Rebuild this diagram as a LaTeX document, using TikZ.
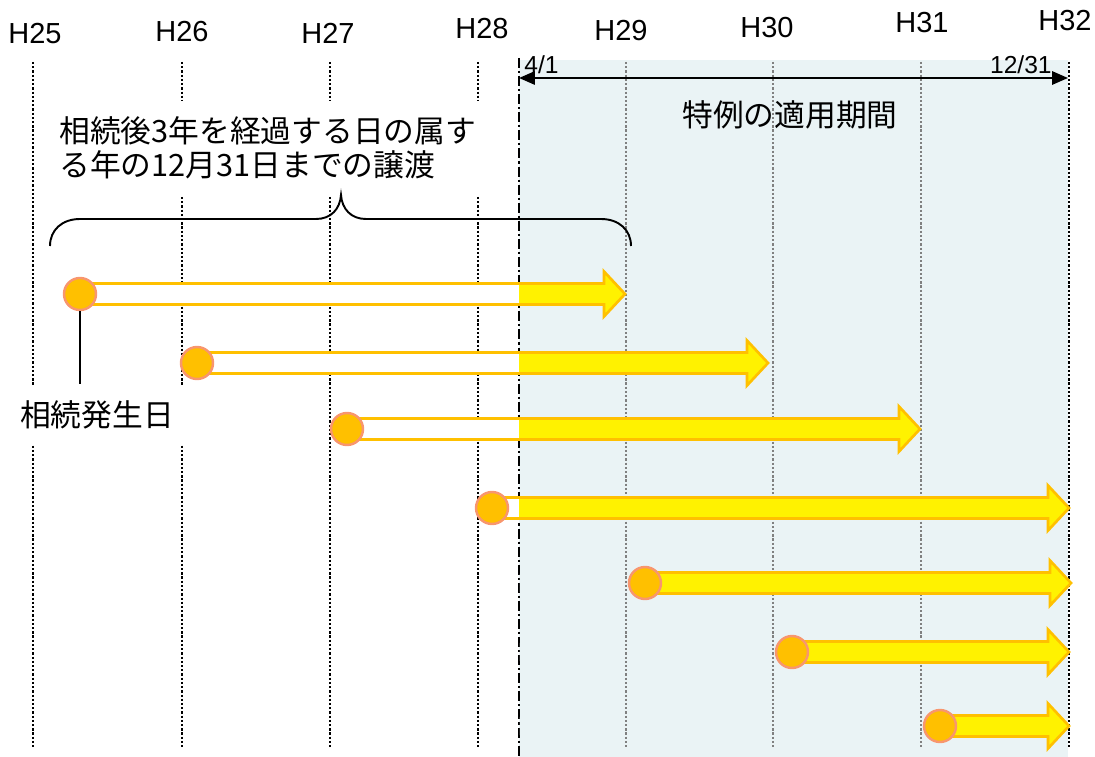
\documentclass[tikz,border=0pt]{standalone}
\usepackage{fontspec}
\setmainfont{Liberation Sans}
\newfontfamily\jp{Noto Sans CJK JP}
\usepackage{tikz}
\usetikzlibrary{arrows.meta, positioning}
\definecolor{gold}{RGB}{255,192,0}
\definecolor{peach}{RGB}{248,150,110}
\definecolor{paleblue}{RGB}{234,243,245}

\begin{document}
\begin{tikzpicture}[x=0.02cm, y=-0.02cm,
    yearlbl/.style={font=\fontsize{16.5pt}{19pt}\selectfont, inner sep=0pt},
    datelbl/.style={font=\fontsize{14pt}{16pt}\selectfont, inner sep=0pt},
    jtext/.style={font=\jp\fontsize{17.5pt}{19.5pt}\selectfont},
    yearline/.style={line width=1.4pt, dash pattern=on 1.3pt off 1.1pt},
    dot/.style={circle, draw=peach, fill=gold, line width=1.4pt, minimum size=0.64cm, inner sep=0pt},
    band/.style={draw=gold, fill=yellow, line width=1.5pt, line join=miter}]
    \useasboundingbox (0,0) rectangle (1095,757);
    % period of the special rule
    \fill[paleblue] (519,60) rectangle (1068,757);
    \foreach \n/\lx/\ly/\gx/\col in {25/35/34/33/black, 26/182/32/182/black, 27/328/33/330/black, 28/482/29/478/black,
        29/621/31/626/gray, 30/767/28/773/gray, 31/922/23/921/gray, 32/1065/21/1069/black}{
        \node[yearlbl] (h\n) at (\lx,\ly) {H\n};
        \draw[yearline, \col] (\gx,62) -- (\gx,748);
    }
    \draw[line width=1.2pt, dash pattern=on 5.7pt off 1.7pt on 1.2pt off 1.7pt] (519,58) -- (519,757);
    \coordinate (from) at (519,78);
    \coordinate (to) at (1068,78);
    \coordinate (mid) at (790,78);
    \draw[line width=1.2pt, {Triangle[length=9pt,width=7.5pt]}-{Triangle[length=9pt,width=7.5pt]}] (from) -- (to);
    \node[datelbl, above right=0.08cm and 0.1cm of from] (d41) {4/1};
    \node[datelbl, above left=0.08cm and 0.32cm of to] (d1231) {12/31};
    \node[jtext, inner sep=0pt, below=0.45cm of mid] (period) {特例の適用期間};
    % labels
    \node[jtext, fill=white, anchor=west, align=left, text width=8.6cm, inner xsep=0.3cm, inner ysep=0.32cm] (cond) at (44,148)
        {相続後3年を経過する日の属す\\る年の12月31日までの譲渡};
    \node[jtext, fill=white, inner xsep=0.28cm, inner ysep=0.32cm] (birth) at (97,415) {相続発生日};
    \draw[line width=1.1pt] (50,246) .. controls (50,230) and (62,219) .. (80,219) -- (316,219)
        .. controls (331,219) and (340,209) .. (341,195) .. controls (342,209) and (351,219) .. (366,219)
        -- (601,219) .. controls (619,219) and (631,230) .. (631,246);
    % transfers
    \foreach \n/\x/\y/\t in {1/80/294/625, 2/197/363/768, 3/347/429/920, 4/492/508/1069,
        5/645/583/1071, 6/792/652/1069, 7/940/726/1069}{
        \draw[band] (\x,\y-10.5) -- (\t-21,\y-10.5) -- (\t-21,\y-22.5) -- (\t,\y)
            -- (\t-21,\y+22.5) -- (\t-21,\y+10.5) -- (\x,\y+10.5) -- cycle;
        \pgfmathsetmacro\wx{min(\x,519)}
        \fill[white] (\wx,\y-9.2) rectangle (519,\y+9.2);
        \node[dot] (c\n) at (\x,\y) {};
    }
    \draw[line width=1.6pt] (c1.south) -- (c1.south |- birth.north);
\end{tikzpicture}
\end{document}
